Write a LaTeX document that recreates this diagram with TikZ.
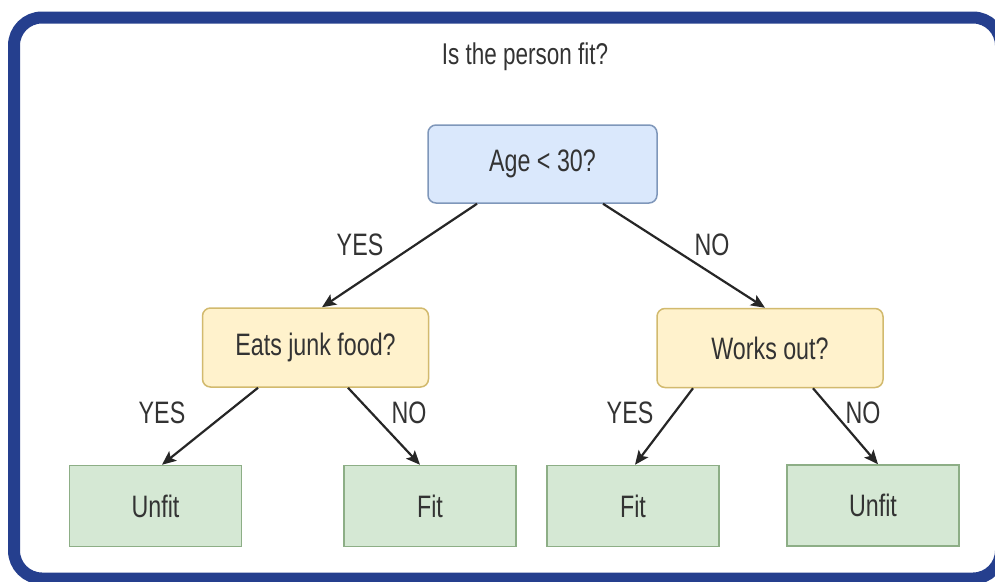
\documentclass[tikz,border=0pt]{standalone}
\usepackage{fontspec}
\setmainfont{Liberation Sans}[FakeStretch=0.75]
\usetikzlibrary{arrows.meta,calc}
\definecolor{frameblue}{RGB}{37,63,142}
\definecolor{txt}{HTML}{333333}
\definecolor{bfill}{HTML}{DAE8FC}\definecolor{bdraw}{HTML}{7F97BA}
\definecolor{yfill}{HTML}{FFF2CC}\definecolor{ydraw}{HTML}{D2BA6E}
\definecolor{gfill}{HTML}{D5E8D4}\definecolor{gdraw}{HTML}{8DAE86}
\definecolor{arrowc}{HTML}{262626}
\tikzset{
  every node/.style={text=txt, font=\fontsize{31}{35}\selectfont, inner sep=0pt},
  qblue/.style={draw=bdraw, fill=bfill, line width=1.5pt, rounded corners=8pt, minimum width=229pt, minimum height=78pt},
  qyellow/.style={draw=ydraw, fill=yfill, line width=1.5pt, rounded corners=8pt, minimum width=226pt, minimum height=79pt},
  leaf/.style={draw=gdraw, fill=gfill, line width=1.5pt, minimum width=172pt, minimum height=81pt},
  lbl/.style={anchor=center},
  arr/.style={draw=arrowc, line width=2.2pt, -{Stealth[length=14pt,width=12pt,inset=3pt]}},
}
\begin{document}
\begin{tikzpicture}[x=1pt,y=-1pt]
\useasboundingbox (0,0) rectangle (995,581);
\fill[white] (0,0) rectangle (995,581);
\draw[frameblue, line width=12pt, rounded corners=28pt] (14,17.5) rectangle (1001,578.5);
\node (title) at (525,57) {\fontsize{30}{34}\selectfont Is the person fit?};
\node[qblue] (age) at (542.5,164) {Age < 30?};
\node[qyellow] (eats) at (315.5,347.5) {Eats junk food?};
\node[qyellow] (works) at (770,348) {Works out?};
\node[leaf] (u1) at (155.5,506) {Unfit};
\node[leaf] (f1) at (430,506) {Fit};
\node[leaf] (f2) at (633,506) {Fit};
\node[leaf] (u2) at (873,505.5) {Unfit};
\draw[arr] ($(age.south)+(-65.5,0)$) -- ($(eats.north)+(6.5,0)$);
\draw[arr] ($(age.south)+(60.5,0)$) -- ($(works.north)+(-5,0)$);
\draw[arr] ($(eats.south)+(-57.5,0)$) -- ($(u1.north)+(6.5,0)$);
\draw[arr] ($(eats.south)+(32.5,0)$) -- ($(f1.north)+(-10,0)$);
\draw[arr] ($(works.south)+(-77,0)$) -- ($(f2.north)+(2,0)$);
\draw[arr] ($(works.south)+(43,0)$) -- ($(u2.north)+(5,0)$);
\node[lbl] (y1) at (360,245) {YES};
\node[lbl] (n1) at (712,245) {NO};
\node[lbl] (y2) at (162,413) {YES};
\node[lbl] (n2) at (409,413) {NO};
\node[lbl] (y3) at (630,413) {YES};
\node[lbl] (n3) at (863,413) {NO};
\end{tikzpicture}
\end{document}
